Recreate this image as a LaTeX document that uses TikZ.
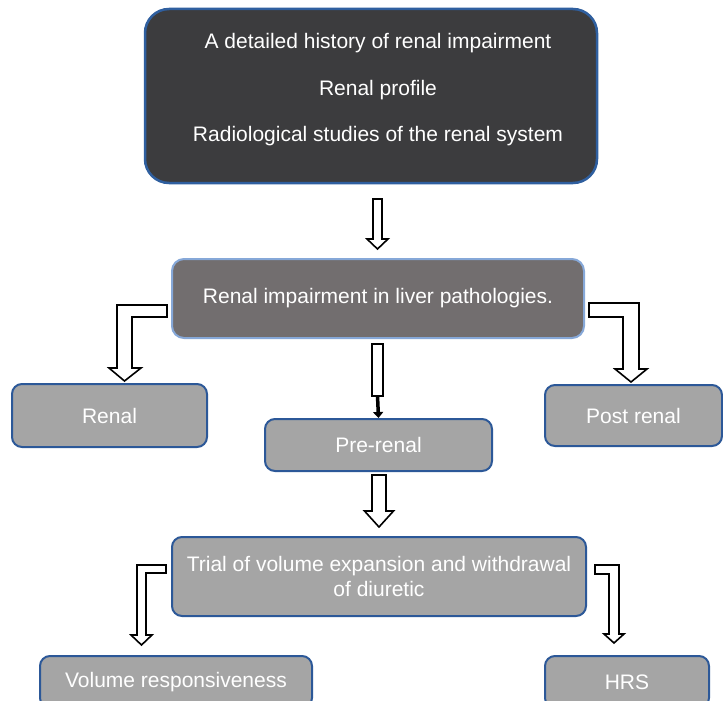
\documentclass[tikz,border=0pt]{standalone}
\usepackage{fontspec}
\setmainfont{Liberation Sans}
\usetikzlibrary{arrows.meta}
\definecolor{topgray}{HTML}{3C3C3E}
\definecolor{topblue}{HTML}{2F5F9F}
\definecolor{midgray}{HTML}{726E6F}
\definecolor{midblue}{HTML}{86A8D8}
\definecolor{lowgray}{HTML}{A5A5A5}
\definecolor{lowblue}{HTML}{2C5898}
\newcommand\blockdown[6]{%
  \draw[blockarrow] (#1-#4,#2) -- (#1+#4,#2) -- (#1+#4,#3-#6) -- (#1+#5,#3-#6)
    -- (#1,#3) -- (#1-#5,#3-#6) -- (#1-#4,#3-#6) -- cycle;}
\tikzset{
  basebox/.style={inner sep=0pt, text=white, font=\fontsize{21}{25}\selectfont, align=center},
  topbox/.style={basebox, draw=topblue, fill=topgray, line width=2.5pt, rounded corners=24pt},
  midbox/.style={basebox, draw=midblue, fill=midgray, line width=2pt, rounded corners=12pt},
  lowbox/.style={basebox, draw=lowblue, fill=lowgray, line width=2pt, rounded corners=10pt},
  blockarrow/.style={draw=black, fill=white, line width=1.6pt, line join=miter},
}
\begin{document}
\begin{tikzpicture}[x=1pt,y=-1pt]
\clip (0,0) rectangle (723,701);
\fill[white] (0,0) rectangle (723,701);

% boxes
\node[topbox, minimum width=452pt, minimum height=174pt] (top) at (371,96) {};
\node[basebox, font=\fontsize{21}{46.5}\selectfont] (toptext) at (378,90)
  {A detailed history of renal impairment\\Renal profile\\Radiological studies of the renal system};
\node[midbox, minimum width=412pt, minimum height=79pt] (mid) at (378,298.5)
  {Renal impairment in liver pathologies.};
\node[lowbox, minimum width=195pt, minimum height=63pt] (renal) at (109.5,415.5) {Renal};
\node[lowbox, minimum width=227pt, minimum height=52pt] (prerenal) at (378.5,445) {Pre-renal};
\node[lowbox, minimum width=177pt, minimum height=61pt] (postrenal) at (633.5,415.5) {Post renal};
\node[lowbox, minimum width=414pt, minimum height=79pt] (trial) at (379,576.5)
  {Trial of volume expansion and withdrawal\\of diuretic};
\node[lowbox, minimum width=272pt, minimum height=52pt] (volume) at (176,682) {Volume responsiveness};
\node[lowbox, minimum width=164pt, minimum height=52pt] (hrs) at (627,682) {HRS};

% top -> mid
\blockdown{377.5}{199}{249}{4.5}{10.5}{10}
% prerenal -> trial
\blockdown{379}{475}{527}{7}{14.5}{16}

% mid -> renal (bent left)
\draw[blockarrow] (167,305) -- (117,305) -- (117,368) -- (109,368) -- (124.5,381)
  -- (141,368) -- (132,368) -- (132,317) -- (167,317) -- cycle;
% mid -> postrenal (bent right)
\draw[blockarrow] (589,303) -- (639,303) -- (639,369) -- (647,369) -- (631,382)
  -- (615,369) -- (623,369) -- (623,317) -- (589,317) -- cycle;
% trial -> volume
\draw[blockarrow] (166,565) -- (137,565) -- (137,635) -- (131,635) -- (141.5,645)
  -- (152,635) -- (146,635) -- (146,573) -- (166,573) -- cycle;
% trial -> hrs
\draw[blockarrow] (595,565) -- (619,565) -- (619,634) -- (624,634) -- (614,643)
  -- (604,634) -- (609,634) -- (609,574) -- (595,574) -- cycle;

% mid -> prerenal (hollow shaft, solid tip)
\draw[blockarrow] (372,344) rectangle (383,396);
\coordinate (stem) at (377.5,396);
\draw[line width=3.5pt, -{Triangle[width=10pt,length=6pt]}] (stem) -- (prerenal.north);
\end{tikzpicture}
\end{document}
